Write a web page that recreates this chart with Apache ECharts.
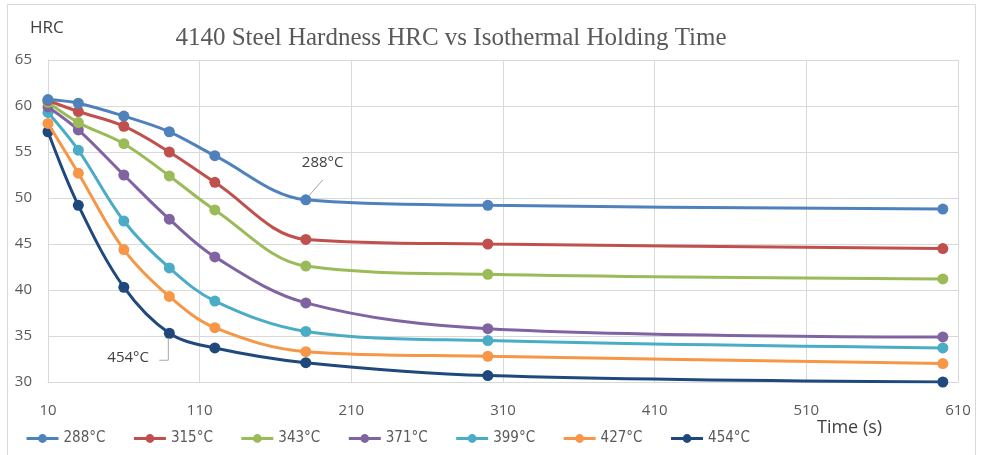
<!DOCTYPE html>
<html>
<head>
<meta charset="utf-8">
<script src="https://cdn.jsdelivr.net/npm/echarts@6/dist/echarts.min.js"></script>
<style>
html,body{margin:0;padding:0;background:#fff;}
#chart{width:985px;height:455px;}
</style>
</head>
<body>
<div id="chart"></div>
<script>
// Data
var times = [10, 30, 60, 90, 120, 180, 300, 600];
var seriesNames = ['288°C', '315°C', '343°C', '371°C', '399°C', '427°C', '454°C'];
var hrc288 = [60.7, 60.3, 58.9, 57.2, 54.6, 49.8, 49.2, 48.8];
var hrc315 = [60.6, 59.4, 57.8, 55.0, 51.7, 45.5, 45.0, 44.5];
var hrc343 = [60.4, 58.2, 55.9, 52.4, 48.7, 42.6, 41.7, 41.2];
var hrc371 = [59.9, 57.4, 52.5, 47.7, 43.6, 38.6, 35.8, 34.9];
var hrc399 = [59.3, 55.2, 47.5, 42.4, 38.8, 35.5, 34.5, 33.7];
var hrc427 = [58.1, 52.7, 44.4, 39.3, 35.9, 33.3, 32.8, 32.0];
var hrc454 = [57.2, 49.2, 40.3, 35.3, 33.7, 32.1, 30.7, 30.0];
var allValues = [hrc288, hrc315, hrc343, hrc371, hrc399, hrc427, hrc454];
var colors = ['#4F81BD', '#C0504D', '#9BBB59', '#8064A2', '#4BACC6', '#F79646', '#1F497D'];

var chart = echarts.init(document.getElementById('chart'), null, {renderer: 'canvas'});

var series = seriesNames.map(function (name, i) {
  return {
    name: name,
    type: 'line',
    smooth: 0.35,
    symbol: 'circle',
    symbolSize: 11,
    z: 10 - i,
    lineStyle: {width: 3, color: colors[i]},
    itemStyle: {color: colors[i]},
    emphasis: {disabled: true},
    data: times.map(function (t, j) { return [t, allValues[i][j]]; })
  };
});

var axisFont = {color: '#595959', fontSize: 15, fontFamily: 'Open Sans'};

chart.setOption({
  animation: false,
  title: {
    text: '4140 Steel Hardness HRC vs Isothermal Holding Time',
    left: 446, top: 21, textAlign: 'center',
    textStyle: {fontFamily: 'Liberation Serif', fontSize: 25, fontWeight: 'normal', color: '#595959'}
  },
  grid: {left: 48, right: 27, top: 60, bottom: 73, containLabel: false},
  xAxis: {
    type: 'value', min: 10, max: 610, interval: 100,
    axisLine: {show: true, lineStyle: {color: '#d9d9d9'}},
    axisTick: {show: false},
    splitLine: {show: true, lineStyle: {color: '#d9d9d9'}},
    axisLabel: Object.assign({margin: 21}, axisFont)
  },
  yAxis: {
    type: 'value', min: 30, max: 65, interval: 5,
    axisLine: {show: true, lineStyle: {color: '#d9d9d9'}},
    axisTick: {show: false},
    splitLine: {show: true, lineStyle: {color: '#d9d9d9'}},
    axisLabel: Object.assign({margin: 16}, axisFont)
  },
  legend: {
    left: 20, top: 426,
    itemWidth: 32, itemHeight: 11, itemGap: 27,
    lineStyle: {width: 3},
    textStyle: {color: '#595959', fontSize: 15, fontFamily: 'Liberation Sans Narrow, DejaVu Sans Condensed, Roboto'},
    data: seriesNames
  },
  series: series
});

function px(t, v) { return chart.convertToPixel({gridIndex: 0}, [t, v]); }

var p288 = px(times[5], hrc288[5]);
var p454 = px(times[3], hrc454[3]);

chart.setOption({
  graphic: [
    {type: 'rect', silent: true, shape: {x: 7.5, y: 4.5, width: 968, height: 470}, style: {fill: 'none', stroke: '#d9d9d9', lineWidth: 1}},
    {type: 'text', left: 30, top: 20, style: {text: 'HRC', fill: '#404040', fontSize: 17, fontFamily: 'Open Sans'}},
    {type: 'text', left: 817, top: 419, style: {text: 'Time (s)', fill: '#404040', fontSize: 18, fontFamily: 'Open Sans'}},
    {type: 'line', silent: true, z: 20, shape: {x1: p288[0] + 3, y1: p288[1] - 4, x2: p288[0] + 17, y2: p288[1] - 20}, style: {stroke: '#a6a6a6', lineWidth: 1}},
    {type: 'text', z: 20, x: p288[0] - 4, y: p288[1] - 45, style: {text: '288°C', fill: '#404040', fontSize: 15, fontFamily: 'Open Sans'}},
    {type: 'polyline', silent: true, z: 20, shape: {points: [[p454[0] - 10, p454[1] + 27], [p454[0] - 1, p454[1] + 27], [p454[0] - 1, p454[1] + 5]]}, style: {stroke: '#a6a6a6', lineWidth: 1, fill: 'none'}},
    {type: 'text', z: 20, x: p454[0] - 62, y: p454[1] + 17, style: {text: '454°C', fill: '#404040', fontSize: 15, fontFamily: 'Open Sans'}}
  ]
});
</script>
</body>
</html>
